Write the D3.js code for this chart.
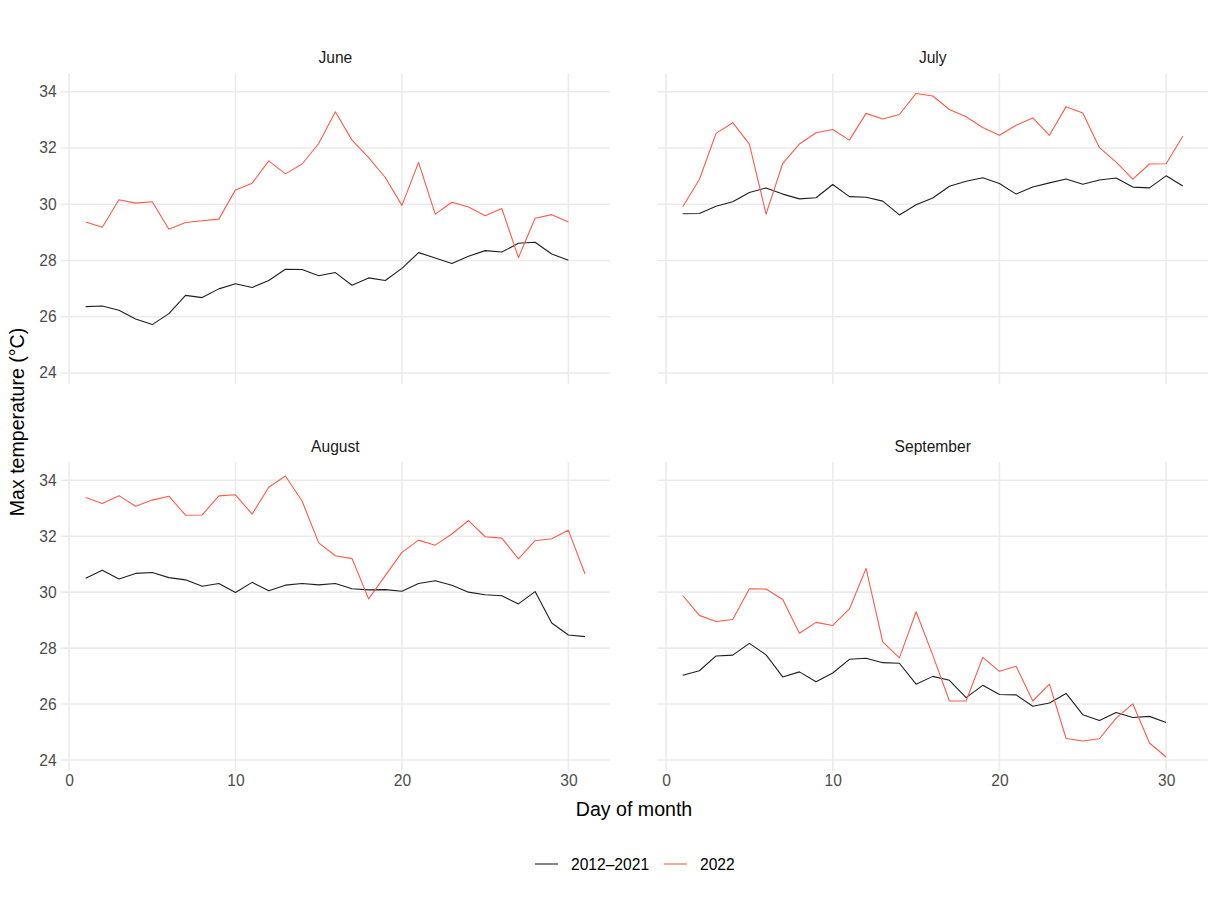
<!DOCTYPE html>
<html><head><meta charset="utf-8">
<script src="https://cdn.jsdelivr.net/npm/d3@7"></script>
<style>body{margin:0;background:#fff;} text{font-family:"Liberation Sans",Arial,sans-serif;}</style>
</head><body><svg id="c" width="1218" height="898"></svg>
<script>
const months = ["June","July","August","September"];
const seriesNames = ["2012–2021","2022"];
const xTicks = [0,10,20,30];
const yTicks = [24,26,28,30,32,34];
const juneAvg = [26.36,26.38,26.23,25.92,25.72,26.11,26.76,26.68,26.99,27.17,27.04,27.29,27.69,27.68,27.46,27.57,27.12,27.38,27.29,27.72,28.28,28.09,27.89,28.15,28.35,28.30,28.61,28.65,28.23,28.01];
const june2022 = [29.37,29.18,30.16,30.04,30.09,29.11,29.35,29.41,29.47,30.51,30.75,31.54,31.08,31.43,32.16,33.29,32.28,31.66,30.95,29.96,31.49,29.65,30.07,29.90,29.59,29.85,28.10,29.50,29.63,29.37];
const julyAvg = [29.66,29.67,29.93,30.09,30.42,30.58,30.36,30.19,30.23,30.70,30.27,30.25,30.11,29.62,29.98,30.22,30.64,30.82,30.94,30.74,30.36,30.61,30.76,30.90,30.71,30.86,30.93,30.61,30.58,31.01,30.65];
const july2022 = [29.91,30.88,32.52,32.90,32.14,29.65,31.45,32.14,32.54,32.66,32.28,33.23,33.03,33.19,33.94,33.85,33.37,33.11,32.73,32.45,32.81,33.07,32.45,33.47,33.24,32.01,31.50,30.89,31.43,31.44,32.42];
const augAvg = [30.50,30.78,30.47,30.67,30.70,30.52,30.44,30.21,30.31,29.99,30.35,30.05,30.25,30.31,30.26,30.31,30.12,30.08,30.09,30.03,30.31,30.41,30.25,30.00,29.91,29.87,29.58,30.02,28.90,28.47,28.41];
const aug2022 = [33.38,33.17,33.45,33.07,33.29,33.43,32.75,32.76,33.44,33.48,32.79,33.75,34.15,33.26,31.76,31.30,31.20,29.76,30.59,31.42,31.86,31.68,32.08,32.56,31.98,31.93,31.19,31.84,31.91,32.21,30.65];
const sepAvg = [27.03,27.19,27.72,27.75,28.17,27.76,26.97,27.15,26.80,27.11,27.60,27.64,27.48,27.46,26.71,26.99,26.85,26.23,26.67,26.34,26.33,25.92,26.04,26.38,25.62,25.41,25.70,25.52,25.56,25.34];
const sep2022 = [29.88,29.17,28.95,29.02,30.12,30.11,29.74,28.53,28.92,28.81,29.40,30.85,28.22,27.65,29.30,27.75,26.11,26.11,27.67,27.17,27.35,26.11,26.71,24.77,24.68,24.76,25.50,26.01,24.61,24.11];

const avgByMonth = [juneAvg, julyAvg, augAvg, sepAvg];
const curByMonth = [june2022, july2022, aug2022, sep2022];
const colors = ["#1f1f1f", "#ff5a47"];

const svg = d3.select("#c");
const grid = "#ebebeb";
const panelX = [[60.7,610],[657.7,1207.8]];
const panelY = [[73.4,384],[462,771]];

// global domain with ggplot-style 5% expansion
const allVals = avgByMonth.concat(curByMonth).flat();
const yMin = d3.min(allVals), yMax = d3.max(allVals);
const yPad = (yMax - yMin) * 0.05;
const xDom = [1 - 1.5, 31 + 1.5];

months.forEach((m, i) => {
  const col = i % 2, row = Math.floor(i / 2);
  const [x0, x1] = panelX[col], [y0, y1] = panelY[row];
  const x = d3.scaleLinear().domain(xDom).range([x0, x1]);
  const y = d3.scaleLinear().domain([yMin - yPad, yMax + yPad]).range([y1, y0]);
  const g = svg.append("g");
  // gridlines
  g.selectAll(".hg").data(yTicks).join("line")
    .attr("x1", x0).attr("x2", x1).attr("y1", d => y(d)).attr("y2", d => y(d))
    .attr("stroke", grid).attr("stroke-width", 1.6);
  g.selectAll(".vg").data(xTicks).join("line")
    .attr("x1", d => x(d)).attr("x2", d => x(d)).attr("y1", y0).attr("y2", y1)
    .attr("stroke", grid).attr("stroke-width", 1.6);
  // strip
  g.append("text").attr("x", (x0 + x1) / 2).attr("y", y0 - 10)
    .attr("text-anchor", "middle").attr("font-size", 15.6).attr("fill", "#1a1a1a").text(m);
  // y axis labels (left column)
  if (col === 0) {
    const ya = d3.axisLeft(y).tickValues(yTicks).tickSize(0).tickPadding(4);
    const ag = g.append("g").attr("transform", `translate(${x0},0)`).call(ya);
    ag.select(".domain").remove();
    ag.selectAll("text").attr("font-size", 15.6).attr("fill", "#4d4d4d")
      .attr("font-family", "Liberation Sans, Arial, sans-serif");
  }
  if (row === 1) {
    const xa = d3.axisBottom(x).tickValues(xTicks).tickSize(0).tickPadding(4);
    const ag = g.append("g").attr("transform", `translate(0,${y1})`).call(xa);
    ag.select(".domain").remove();
    ag.selectAll("text").attr("font-size", 15.6).attr("fill", "#4d4d4d")
      .attr("font-family", "Liberation Sans, Arial, sans-serif");
  }
  const line = d3.line().x((d, j) => x(j + 1)).y(d => y(d));
  [avgByMonth[i], curByMonth[i]].forEach((s, k) => {
    g.append("path").datum(s).attr("d", line).attr("fill", "none")
      .attr("stroke", colors[k]).attr("stroke-width", 1.1).attr("stroke-linejoin", "round");
  });
});

// axis titles
svg.append("text").attr("x", 634).attr("y", 816).attr("text-anchor", "middle")
  .attr("font-size", 19.6).attr("fill", "#000").text("Day of month");
svg.append("text").attr("transform", "translate(24,422) rotate(-90)").attr("text-anchor", "middle")
  .attr("font-size", 19.6).attr("fill", "#000").text("Max temperature (°C)");

// legend
const legX = [535, 664];
seriesNames.forEach((n, k) => {
  svg.append("line").attr("x1", legX[k]).attr("x2", legX[k] + 23).attr("y1", 864).attr("y2", 864)
    .attr("stroke", colors[k]).attr("stroke-width", 1.1);
  svg.append("text").attr("x", legX[k] + 36).attr("y", 869.5).attr("font-size", 15.6)
    .attr("fill", "#000").text(n);
});
</script></body></html>
